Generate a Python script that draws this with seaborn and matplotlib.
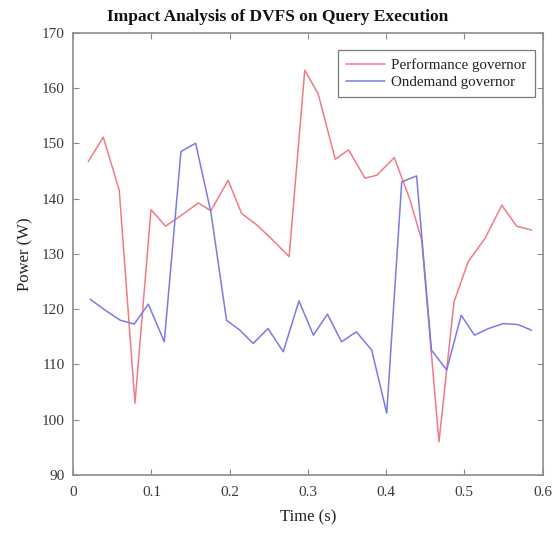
import matplotlib
matplotlib.use("Agg")
import matplotlib.pyplot as plt
import seaborn as sns
import pandas as pd

# Power traces sampled during query execution
perf_time = [0.0192, 0.0384, 0.0588, 0.0789, 0.0994, 0.118, 0.1386, 0.160, 0.176, 0.198,
             0.2153, 0.235, 0.255, 0.276, 0.296, 0.313, 0.335, 0.352, 0.373, 0.388,
             0.4105, 0.430, 0.4455, 0.4676, 0.4868, 0.505, 0.5265, 0.548, 0.567, 0.586]
perf_power = [146.7, 151.1, 141.5, 103.0, 138.0, 135.0, 137.0, 139.2, 137.8, 143.3,
              137.3, 135.2, 132.5, 129.5, 163.2, 159.0, 147.1, 148.8, 143.7, 144.2,
              147.4, 140.0, 132.5, 96.0, 121.3, 128.6, 132.8, 138.8, 135.0, 134.3]

ond_time = [0.0215, 0.0410, 0.0600, 0.0779, 0.096, 0.1164, 0.1377, 0.1565, 0.176, 0.196,
            0.213, 0.230, 0.249, 0.2685, 0.2886, 0.307, 0.325, 0.343, 0.362, 0.3816,
            0.4008, 0.420, 0.439, 0.458, 0.4775, 0.496, 0.513, 0.531, 0.550, 0.569, 0.586]
ond_power = [121.8, 119.8, 118.0, 117.3, 120.9, 114.1, 148.5, 150.0, 137.5, 118.0,
             116.2, 113.8, 116.5, 112.3, 121.5, 115.3, 119.1, 114.1, 115.9, 112.6,
             101.2, 143.0, 144.1, 112.6, 109.0, 118.9, 115.3, 116.5, 117.4, 117.2, 116.2]

series_names = ["Performance governor", "Ondemand governor"]
x_ticks = [0, 0.1, 0.2, 0.3, 0.4, 0.5, 0.6]
x_tick_labels = ["0", "0.1", "0.2", "0.3", "0.4", "0.5", "0.6"]
y_ticks = [90, 100, 110, 120, 130, 140, 150, 160, 170]

df = pd.concat([
    pd.DataFrame({"Time": perf_time, "Power": perf_power, "Governor": series_names[0]}),
    pd.DataFrame({"Time": ond_time, "Power": ond_power, "Governor": series_names[1]}),
], ignore_index=True)

sns.set_theme(style="ticks")
plt.rcParams["font.family"] = ["Liberation Serif", "DejaVu Serif"]

fig = plt.figure(figsize=(5.55, 5.35), dpi=100)
ax = fig.add_axes([0.132, 0.112, 0.8455, 0.827])

palette = {series_names[0]: "#f27a85", series_names[1]: "#7a7ae8"}
sns.lineplot(data=df, x="Time", y="Power", hue="Governor", palette=palette,
             sort=False, estimator=None, linewidth=1.1, ax=ax)

ax.set_xlim(0, 0.6)
ax.set_ylim(90, 170)
ax.set_xticks(x_ticks)
ax.set_xticklabels(x_tick_labels)
ax.set_yticks(y_ticks)

spine_color = "#8c8c8c"
for s in ax.spines.values():
    s.set_visible(True)
    s.set_color(spine_color)
    s.set_linewidth(1.2)
ax.tick_params(direction="in", length=4, width=0.8, color=spine_color,
               top=True, right=True, labelsize=11, labelcolor="#3a3a3a")
ax.tick_params(axis="x", pad=8)
ax.tick_params(axis="y", pad=6)

ax.set_xlabel("Time (s)", fontsize=12, color="#222222", labelpad=7)
ax.set_ylabel("Power (W)", fontsize=12, color="#222222", labelpad=6)
fig.suptitle("Impact Analysis of DVFS on Query Execution", x=0.5, y=0.968,
             va="center", fontsize=12.5, fontweight="bold", color="#111111")

leg = ax.legend(loc="upper right", fontsize=10.8, frameon=True, fancybox=False,
                handlelength=2.6, handletextpad=0.4, borderpad=0.55,
                labelspacing=0.25, bbox_to_anchor=(0.9995, 0.978))
leg.get_frame().set_edgecolor("#5a5a5a")
leg.get_frame().set_linewidth(0.9)
for t in leg.get_texts():
    t.set_color("#222222")

fig.savefig("out.png", dpi=100)
